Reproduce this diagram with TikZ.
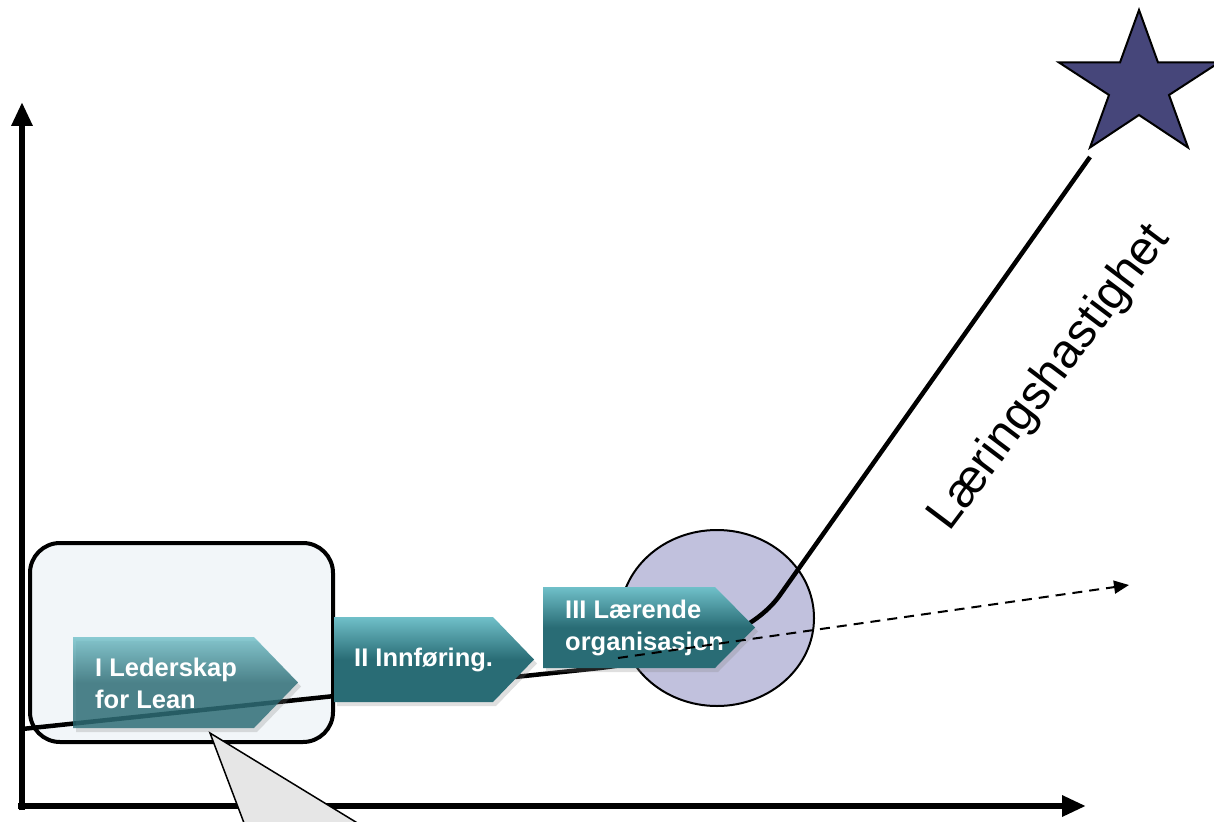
\documentclass[tikz,border=0pt]{standalone}
\usepackage{fontspec}
\setmainfont{Liberation Sans}
\usetikzlibrary{arrows.meta,shadows}
\definecolor{boxfill}{RGB}{242,246,249}
\definecolor{callfill}{RGB}{230,230,230}
\definecolor{circfill}{RGB}{193,193,221}
\definecolor{starfill}{RGB}{70,70,122}
\definecolor{tealL}{RGB}{112,192,201}
\definecolor{tealD}{RGB}{41,108,117}
\tikzset{
  axis/.style={line width=6pt,-{Triangle[length=24pt,width=20pt]}},
  phase/.style={top color=tealL,bottom color=tealD,middle color=tealD,
     drop shadow={opacity=0.25,shadow xshift=3pt,shadow yshift=-4pt}},
  lbl/.style={text=white,font=\bfseries\fontsize{25.5}{32}\selectfont,align=left,inner sep=0pt,anchor=west},
  curve/.style={line width=4.5pt},
  trend/.style={line width=2pt,dash pattern=on 10pt off 7pt,-{Triangle[length=15pt,width=13pt]}},
}
\begin{document}
\begin{tikzpicture}[x=1pt,y=-1pt]
\useasboundingbox (0,0) rectangle (1214,821);
\clip (0,0) rectangle (1214,821);
% coordinates
\coordinate (O) at (22,806);
\coordinate (Ytop) at (22,102);
\coordinate (Xend) at (1086,806);
% axes
\draw[axis] (22,810) -- (Ytop);
\draw[axis] (18,806) -- (Xend);
% phase box
\draw[line width=4pt,fill=boxfill,rounded corners=30pt] (30,543) rectangle (333,742);
% circle
\draw[line width=2pt,fill=circfill] (717,618) ellipse [x radius=97,y radius=88];
% learning curve
\coordinate (c0) at (22,729);
\coordinate (c1) at (600,668);
\coordinate (c2) at (780,595);
\coordinate (c3) at (1090,157);
\draw[curve] (c0) -- (c1) .. controls (690,657) and (754,632) .. (c2) -- (c3);
% callout
\coordinate (apex) at (210,733);
\fill[callfill] (apex) -- (258,860) -- (418,860) -- cycle;
\draw[line width=1.5pt] (258,860) -- (apex) -- (418,860);
% phase arrows
\path[phase,fill opacity=0.8] (73,637) -- (254,637) -- (298,682.5) -- (254,728) -- (73,728) -- cycle;
\node[lbl] (p1) at (95,683) {I Lederskap\\for Lean};
\path[phase] (334,617) -- (493,617) -- (534,659.5) -- (493,702) -- (334,702) -- cycle;
\node[lbl] (p2) at (354,660) {II Innføring.};
\path[phase] (543,587) -- (715,587) -- (755,627.5) -- (715,668) -- (543,668) -- cycle;
\node[lbl] (p3) at (565,628) {III Lærende\\organisasjon};
% trend
\coordinate (t0) at (618,658);
\coordinate (t1) at (1129,585);
\draw[trend] (t0) -- (t1);
% star
\draw[line width=2pt,fill=starfill,line join=miter]
  (1139,10) -- (1158,62.5) -- (1219,62.5) -- (1169,95) -- (1188,147.5)
  -- (1139,115) -- (1090,147.5) -- (1109,95) -- (1059,62.5) -- (1120,62.5) -- cycle;
% label
\node[rotate=53,font=\fontsize{48}{48}\selectfont,inner sep=0pt] (lh) at (1050,378) {Læringshastighet};
\end{tikzpicture}
\end{document}
